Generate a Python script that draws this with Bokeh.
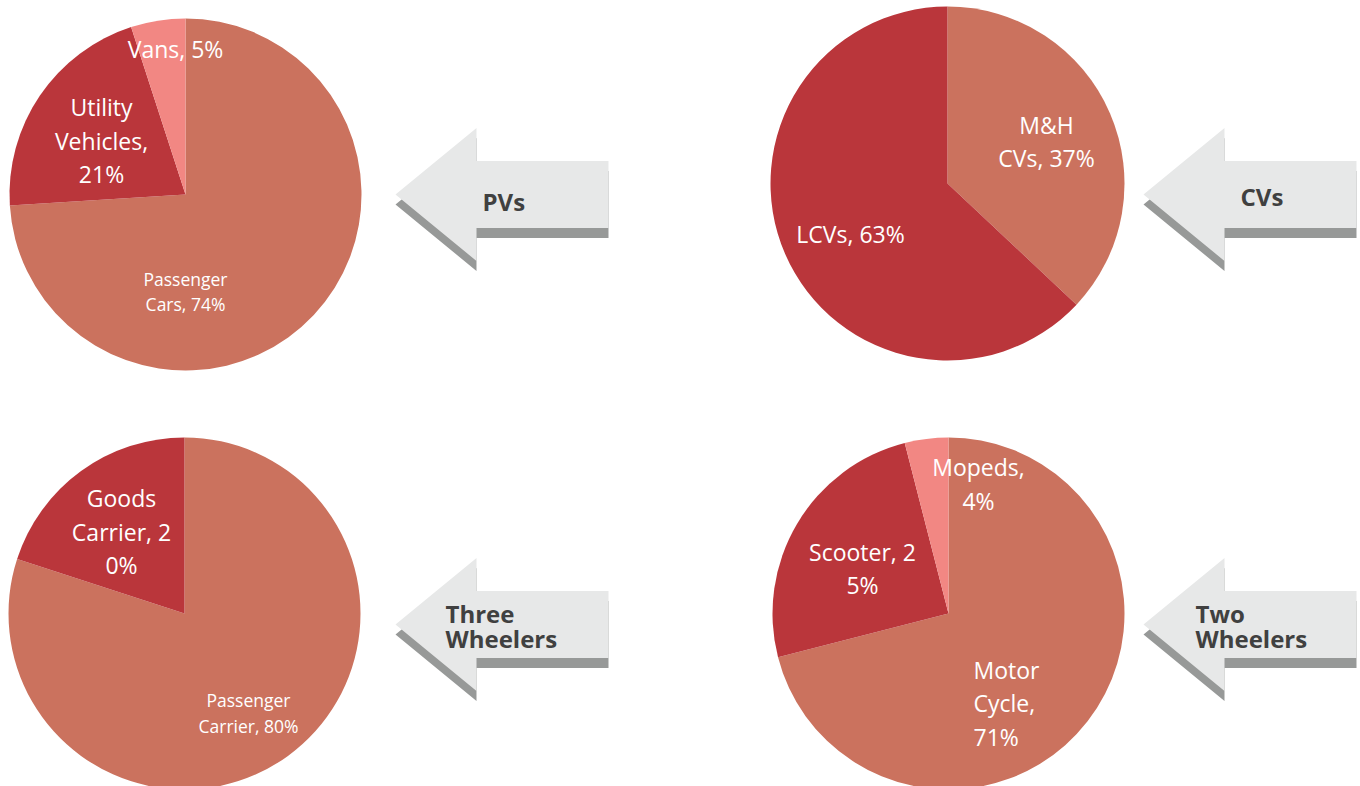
import numpy as np
from bokeh.plotting import figure
from bokeh.models import Range1d, ColumnDataSource
from bokeh.embed import file_html
from bokeh.resources import INLINE
from bokeh.core.properties import value

# ---------------- data ----------------
pv_names = ["Passenger Cars", "Utility Vehicles", "Vans"]
pv_shares = [74, 21, 5]

cv_names = ["M&H CVs", "LCVs"]
cv_shares = [37, 63]

three_names = ["Passenger Carrier", "Goods Carrier"]
three_shares = [80, 20]

two_names = ["Motor Cycle", "Scooter", "Mopeds"]
two_shares = [71, 25, 4]

arrow_titles = ["PVs", "CVs", "Three\nWheelers", "Two\nWheelers"]

# ---------------- style ----------------
ORANGE = "#CB725E"
RED = "#BA363B"
PINK = "#F28783"
ARROW_FILL = "#E7E8E8"
ARROW_SHADOW = "#979998"
ARROW_TEXT = "#404040"
FONT = "Open Sans"
BIG = "23px"
SMALL = "17.5px"
BIG_LS = 33.5
SMALL_LS = 25.5

W, H = 1360, 786
IMG_H = 786


def Y(y):
    return IMG_H - y


p = figure(width=W, height=H, x_range=Range1d(0, W), y_range=Range1d(IMG_H - H, IMG_H),
           output_backend="svg", toolbar_location=None, min_border=0,
           x_axis_type=None, y_axis_type=None, background_fill_color="white",
           border_fill_color="white")
p.grid.visible = False
p.outline_line_color = None

pies = [
    dict(names=pv_names, shares=pv_shares, cx=185, cy=194, r=176,
         colors=[ORANGE, RED, PINK],
         labels=[dict(x=185, y=278, cuts=[9], size=SMALL, align="center"),
                 dict(x=101, y=106.5, cuts=[7, 17], size=BIG, align="center"),
                 dict(x=175, y=48, cuts=[], size=BIG, align="center")]),
    dict(names=cv_names, shares=cv_shares, cx=947, cy=183, r=177,
         colors=[ORANGE, RED],
         labels=[dict(x=1046, y=124, cuts=[3], size=BIG, align="center"),
                 dict(x=850, y=233.5, cuts=[], size=BIG, align="center")]),
    dict(names=three_names, shares=three_shares, cx=184, cy=613, r=176,
         colors=[ORANGE, RED],
         labels=[dict(x=248, y=699.5, cuts=[9], size=SMALL, align="center"),
                 dict(x=121, y=497.5, cuts=[5, 16], size=BIG, align="center")]),
    dict(names=two_names, shares=two_shares, cx=948, cy=613, r=176,
         colors=[ORANGE, RED, PINK],
         labels=[dict(x=973, y=669, cuts=[5, 12], size=BIG, align="left"),
                 dict(x=862, y=551, cuts=[10], size=BIG, align="center"),
                 dict(x=978, y=466.5, cuts=[7], size=BIG, align="center")]),
]


def split_text(s, cuts):
    parts, prev = [], 0
    for c in cuts:
        parts.append(s[prev:c].strip())
        prev = c
    parts.append(s[prev:].strip())
    return parts


for pie in pies:
    fr = np.array(pie["shares"], dtype=float) / sum(pie["shares"])
    cum = np.concatenate([[0.0], np.cumsum(fr)])
    src = ColumnDataSource(dict(
        start=np.pi / 2 - cum[:-1] * 2 * np.pi,
        end=np.pi / 2 - cum[1:] * 2 * np.pi,
        color=pie["colors"],
    ))
    p.wedge(x=pie["cx"], y=Y(pie["cy"]), radius=pie["r"], start_angle="start",
            end_angle="end", direction="clock", fill_color="color",
            line_color=None, source=src)

    for name, share, lab in zip(pie["names"], pie["shares"], pie["labels"]):
        lines = split_text(f"{name}, {share}%", lab["cuts"])
        ls = SMALL_LS if lab["size"] == SMALL else BIG_LS
        ys = [Y(lab["y"] + i * ls) for i in range(len(lines))]
        p.text(x=[lab["x"]] * len(lines), y=ys, text=lines,
               text_font=value(FONT), text_font_size=lab["size"],
               text_color="white", text_align=lab["align"],
               text_baseline="middle")

# ---------------- arrows ----------------
arrow_pos = [(395, 194, 482, 200.5), (1143, 194, 1240, 195.5),
             (395, 624, 445, 612.5), (1143, 624, 1195, 613)]
HEAD_W, TOTAL_W, HEAD_H, BODY_H, SHADOW = 81, 213, 66.5, 33.5, 10


def arrow_shape(tx, cy, dy=0):
    xs = [tx, tx + HEAD_W, tx + HEAD_W, tx + TOTAL_W, tx + TOTAL_W, tx + HEAD_W, tx + HEAD_W]
    ys = [cy, cy - HEAD_H, cy - BODY_H, cy - BODY_H, cy + BODY_H, cy + BODY_H, cy + HEAD_H]
    return xs, [Y(v + dy) for v in ys]


sh_xs, sh_ys, ar_xs, ar_ys = [], [], [], []
for tx, cy, _, _ in arrow_pos:
    xs, ys = arrow_shape(tx, cy, SHADOW)
    sh_xs.append(xs); sh_ys.append(ys)
    xs, ys = arrow_shape(tx, cy)
    ar_xs.append(xs); ar_ys.append(ys)

p.patches(xs=sh_xs, ys=sh_ys, fill_color=ARROW_SHADOW, line_color=None)
p.patches(xs=ar_xs, ys=ar_ys, fill_color=ARROW_FILL, line_color=None)

for title, (_, _, lx, ly) in zip(arrow_titles, arrow_pos):
    lines = title.split("\n")
    p.text(x=[lx] * len(lines), y=[Y(ly + i * 25) for i in range(len(lines))],
           text=lines, text_font=value(FONT), text_font_size="24px",
           text_font_style="bold", text_color=ARROW_TEXT, text_align="left",
           text_baseline="middle")

open("out.html", "w").write(file_html(p, INLINE))
